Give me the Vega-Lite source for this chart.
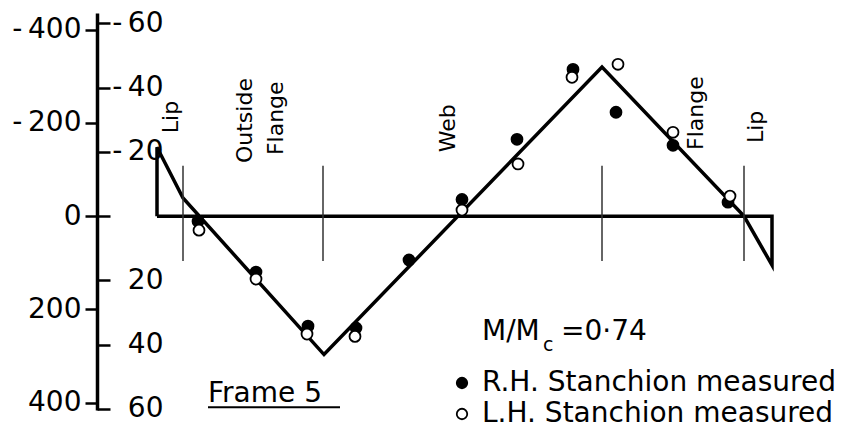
{
  "$schema": "https://vega.github.io/schema/vega-lite/v6.json",
  "width": 746,
  "height": 397,
  "autosize": {"type": "none"},
  "padding": {"left": 97, "top": 13, "right": 0, "bottom": 25},
  "background": "white",
  "config": {
    "view": {"stroke": null},
    "font": "DejaVu Sans",
    "text": {"font": "DejaVu Sans", "color": "black"}
  },
  "datasets": {
    "profile": [
      {"step": 1, "pos": 60, "stress": 0},
      {"step": 2, "pos": 60, "stress": -148},
      {"step": 3, "pos": 86, "stress": -39},
      {"step": 4, "pos": 227, "stress": 297},
      {"step": 5, "pos": 505, "stress": -320},
      {"step": 6, "pos": 647, "stress": 0},
      {"step": 7, "pos": 675, "stress": 105},
      {"step": 8, "pos": 675, "stress": 0},
      {"step": 9, "pos": 60, "stress": 0}
    ],
    "junctions": [
      {"pos": 86}, {"pos": 226}, {"pos": 505}, {"pos": 647}
    ],
    "measured": [
      {"side": "R.H. Stanchion measured", "pos": 101, "stress": 11},
      {"side": "R.H. Stanchion measured", "pos": 159, "stress": 120},
      {"side": "R.H. Stanchion measured", "pos": 211, "stress": 236},
      {"side": "R.H. Stanchion measured", "pos": 259, "stress": 240},
      {"side": "R.H. Stanchion measured", "pos": 312, "stress": 94},
      {"side": "R.H. Stanchion measured", "pos": 365, "stress": -36},
      {"side": "R.H. Stanchion measured", "pos": 420, "stress": -165},
      {"side": "R.H. Stanchion measured", "pos": 476, "stress": -315},
      {"side": "R.H. Stanchion measured", "pos": 519, "stress": -223},
      {"side": "R.H. Stanchion measured", "pos": 576, "stress": -152},
      {"side": "R.H. Stanchion measured", "pos": 631, "stress": -30},
      {"side": "L.H. Stanchion measured", "pos": 102, "stress": 30},
      {"side": "L.H. Stanchion measured", "pos": 159, "stress": 135},
      {"side": "L.H. Stanchion measured", "pos": 210, "stress": 253},
      {"side": "L.H. Stanchion measured", "pos": 258, "stress": 258},
      {"side": "L.H. Stanchion measured", "pos": 365, "stress": -13},
      {"side": "L.H. Stanchion measured", "pos": 421, "stress": -112},
      {"side": "L.H. Stanchion measured", "pos": 475, "stress": -298},
      {"side": "L.H. Stanchion measured", "pos": 521, "stress": -326},
      {"side": "L.H. Stanchion measured", "pos": 576, "stress": -180},
      {"side": "L.H. Stanchion measured", "pos": 633, "stress": -43}
    ],
    "parts": [
      {"label": "Lip", "pos": 81, "stress": -178},
      {"label": "Outside", "pos": 155, "stress": -114},
      {"label": "Flange", "pos": 186, "stress": -131},
      {"label": "Web", "pos": 358, "stress": -137},
      {"label": "Flange", "pos": 606, "stress": -142},
      {"label": "Lip", "pos": 666, "stress": -157}
    ],
    "notes": [
      {"label": "M/M", "pos": 385, "stress": 266},
      {"label": "=0·74", "pos": 464, "stress": 266},
      {"label": "Frame 5", "pos": 111, "stress": 399}
    ],
    "subscripts": [
      {"label": "c", "pos": 446, "stress": 289}
    ],
    "underline": [
      {"from": 111, "to": 243, "stress": 410}
    ]
  },
  "resolve": {"axis": {"y": "independent"}},
  "layer": [
    {
      "data": {"name": "profile"},
      "mark": {"type": "line", "color": "black", "strokeWidth": 3.5, "strokeJoin": "miter"},
      "encoding": {
        "x": {"field": "pos", "type": "quantitative", "scale": {"domain": [0, 746], "nice": false}, "axis": null},
        "y": {
          "field": "stress", "type": "quantitative",
          "scale": {"domain": [-436, 416], "nice": false, "reverse": true},
          "axis": {
            "values": [-400, -200, 0, 200, 400],
            "labelExpr": "datum.value < 0 ? '-\u2009' + (-datum.value) : '' + datum.value",
            "title": null, "grid": false,
            "domainColor": "black", "domainWidth": 3.5,
            "tickColor": "black", "tickWidth": 2.5, "tickSize": 12,
            "labelFont": "DejaVu Sans", "labelFontSize": 28, "labelColor": "black",
            "labelPadding": 4, "labelBaseline": "middle",
            "labelFlush": false, "labelOverlap": false
          }
        },
        "order": {"field": "step", "type": "quantitative"}
      }
    },
    {
      "data": {"name": "junctions"},
      "mark": {"type": "rule", "color": "#333333", "strokeWidth": 1.5},
      "encoding": {
        "x": {"field": "pos", "type": "quantitative", "scale": {"domain": [0, 746], "nice": false}, "axis": null},
        "y": {"datum": -108, "type": "quantitative", "scale": {"domain": [-436, 416], "nice": false, "reverse": true}, "axis": null},
        "y2": {"datum": 96}
      }
    },
    {
      "data": {"name": "measured"},
      "mark": {"type": "point", "shape": "circle", "filled": true, "stroke": "black", "strokeWidth": 1.8, "size": 120, "opacity": 1},
      "encoding": {
        "x": {"field": "pos", "type": "quantitative", "scale": {"domain": [0, 746], "nice": false}, "axis": null},
        "y": {
          "field": "stress", "type": "quantitative",
          "scale": {"domain": [-436, 416], "nice": false, "reverse": true},
          "axis": {
            "orient": "left",
            "values": [-413.7, -275.8, -137.9, 0, 137.9, 275.8, 413.7],
            "labelExpr": "datum.value == 0 ? '' : datum.value < 0 ? '-\u2009' + round(-datum.value / 6.895) : '' + round(datum.value / 6.895)",
            "title": null, "grid": false, "domain": false,
            "tickColor": "black", "tickWidth": 2.5, "tickSize": -13,
            "labelFont": "DejaVu Sans", "labelFontSize": 28, "labelColor": "black",
            "labelPadding": -53, "labelAlign": "right", "labelBaseline": "middle",
            "labelFlush": false, "labelOverlap": false
          }
        },
        "fill": {
          "field": "side", "type": "nominal",
          "scale": {"domain": ["R.H. Stanchion measured", "L.H. Stanchion measured"], "range": ["black", "white"]},
          "legend": {
            "title": null, "orient": "none", "legendX": 351, "legendY": 356,
            "symbolType": "circle", "symbolSize": 110, "symbolStrokeColor": "black", "symbolStrokeWidth": 1.8,
            "labelFont": "DejaVu Sans", "labelFontSize": 28, "labelColor": "black", "labelOffset": 6,
            "labelLimit": 0, "rowPadding": 3, "padding": 0
          }
        }
      }
    },
    {
      "data": {"name": "parts"},
      "mark": {"type": "text", "angle": 270, "align": "left", "baseline": "alphabetic", "fontSize": 22, "font": "DejaVu Sans", "color": "black"},
      "encoding": {
        "x": {"field": "pos", "type": "quantitative", "scale": {"domain": [0, 746], "nice": false}, "axis": null},
        "y": {"field": "stress", "type": "quantitative", "scale": {"domain": [-436, 416], "nice": false, "reverse": true}, "axis": null},
        "text": {"field": "label"}
      }
    },
    {
      "data": {"name": "notes"},
      "mark": {"type": "text", "align": "left", "baseline": "alphabetic", "fontSize": 28, "font": "DejaVu Sans", "color": "black"},
      "encoding": {
        "x": {"field": "pos", "type": "quantitative", "scale": {"domain": [0, 746], "nice": false}, "axis": null},
        "y": {"field": "stress", "type": "quantitative", "scale": {"domain": [-436, 416], "nice": false, "reverse": true}, "axis": null},
        "text": {"field": "label"}
      }
    },
    {
      "data": {"name": "subscripts"},
      "mark": {"type": "text", "align": "left", "baseline": "alphabetic", "fontSize": 19, "font": "DejaVu Sans", "color": "black"},
      "encoding": {
        "x": {"field": "pos", "type": "quantitative", "scale": {"domain": [0, 746], "nice": false}, "axis": null},
        "y": {"field": "stress", "type": "quantitative", "scale": {"domain": [-436, 416], "nice": false, "reverse": true}, "axis": null},
        "text": {"field": "label"}
      }
    },
    {
      "data": {"name": "underline"},
      "mark": {"type": "rule", "color": "black", "strokeWidth": 2},
      "encoding": {
        "x": {"field": "from", "type": "quantitative", "scale": {"domain": [0, 746], "nice": false}, "axis": null},
        "x2": {"field": "to"},
        "y": {"field": "stress", "type": "quantitative", "scale": {"domain": [-436, 416], "nice": false, "reverse": true}, "axis": null}
      }
    }
  ]
}
